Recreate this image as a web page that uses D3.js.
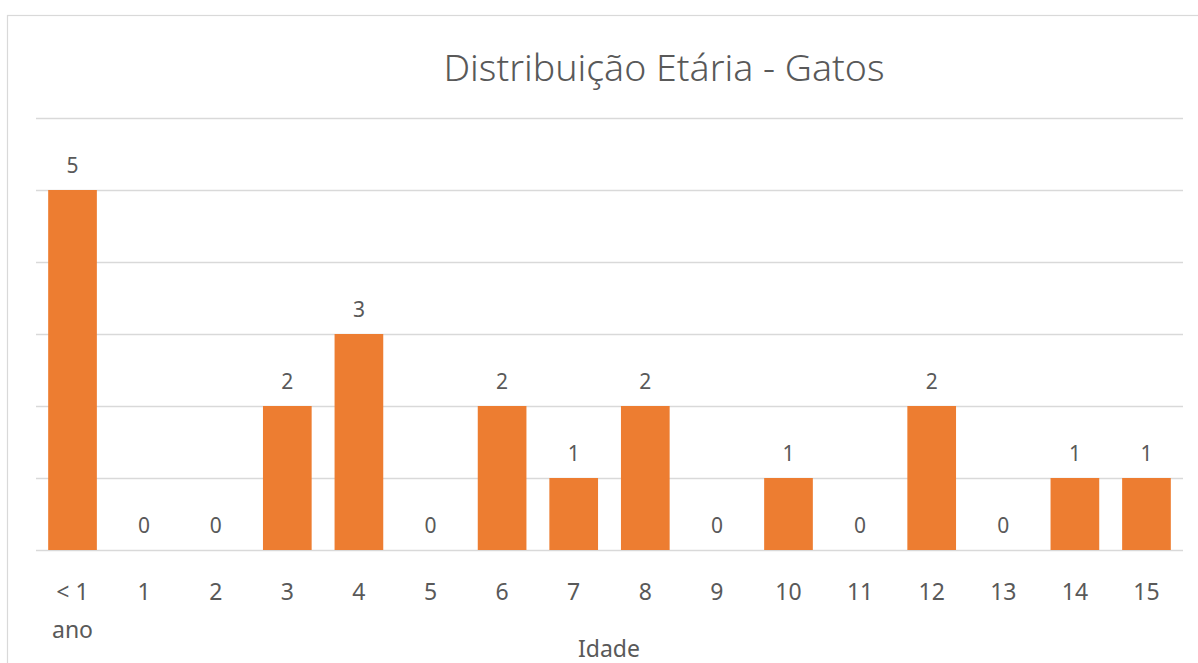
<!DOCTYPE html>
<html><head><meta charset="utf-8">
<script src="https://cdn.jsdelivr.net/npm/d3@7"></script>
<style>
html,body{margin:0;padding:0;background:#fff;}
svg{display:block;}
text{font-family:"Noto Sans","Open Sans",sans-serif;fill:#595959;}
</style></head>
<body>
<svg id="c" width="1198" height="663"></svg>
<script>
const categories = ["< 1 ano","1","2","3","4","5","6","7","8","9","10","11","12","13","14","15"];
const values = [5,0,0,2,3,0,2,1,2,0,1,0,2,0,1,1];
const yTicks = [0,1,2,3,4,5,6];
const title = "Distribuição Etária - Gatos";
const xTitle = "Idade";

const svg = d3.select("#c");
const plot = {left:36, right:1183, top:118, bottom:550};

// chart border (cropped at right/bottom)
svg.append("rect").attr("x",7.5).attr("y",15.5).attr("width",1300).attr("height",700)
  .attr("fill","#fff").attr("stroke","#d9d9d9").attr("stroke-width",1.2);

const x = d3.scaleBand().domain(categories).range([plot.left, plot.right]).paddingInner(0.32).paddingOuter(0.17);
const y = d3.scaleLinear().domain([0,6]).range([plot.bottom, plot.top]);

// gridlines
svg.append("g").selectAll("line").data(yTicks).join("line")
  .attr("x1",plot.left).attr("x2",plot.right)
  .attr("y1",d=>Math.round(y(d))+0.5).attr("y2",d=>Math.round(y(d))+0.5)
  .attr("stroke","#d9d9d9").attr("stroke-width",1.5);

// bars
svg.append("g").selectAll("rect").data(values).join("rect")
  .attr("x",(d,i)=>x(categories[i]))
  .attr("width",x.bandwidth())
  .attr("y",d=>y(d))
  .attr("height",d=>y(0)-y(d))
  .attr("fill","#ED7D31");

// data labels
svg.append("g").selectAll("text").data(values).join("text")
  .attr("x",(d,i)=>x(categories[i])+x.bandwidth()/2)
  .attr("y",d=>y(d)-17)
  .attr("text-anchor","middle")
  .attr("font-size",21)
  .text(d=>d);

// x axis labels
const xAxis = d3.axisBottom(x).tickSize(0).tickPadding(0);
const gx = svg.append("g").attr("transform",`translate(0,${plot.bottom})`).call(xAxis);
gx.select(".domain").remove();
gx.selectAll("text").remove();
gx.selectAll(".tick").each(function(d){
  const t = d3.select(this).append("text").attr("text-anchor","middle")
    .attr("font-size",23).attr("fill","#595959");
  const parts = d === "< 1 ano" ? ["< 1","ano"] : [d];
  parts.forEach((p,k)=>t.append("tspan").attr("x",0).attr("y",50+k*38).text(p));
});

// title
svg.append("text").attr("x",664).attr("y",81).attr("text-anchor","middle")
  .attr("font-size",37.5).attr("font-weight",300).text(title);

// axis title
svg.append("text").attr("x",609).attr("y",657).attr("text-anchor","middle")
  .attr("font-size",23).text(xTitle);
</script>
</body></html>
